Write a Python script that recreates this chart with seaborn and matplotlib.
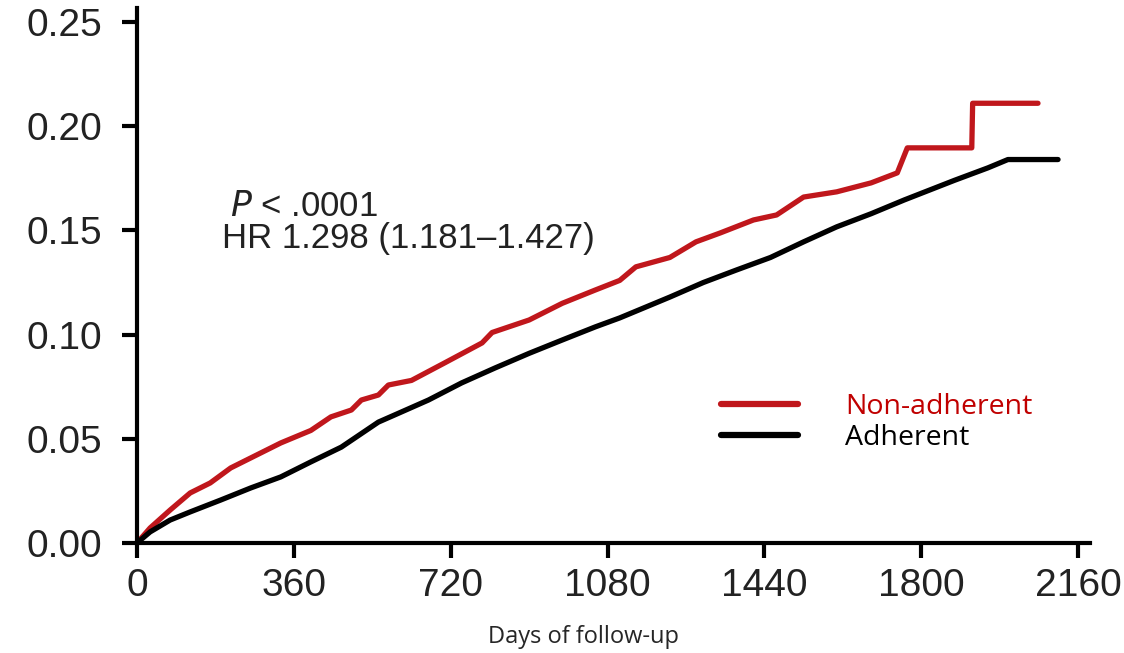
import matplotlib
matplotlib.use("Agg")
import matplotlib.pyplot as plt
import seaborn as sns
import pandas as pd

# Non-adherent (red) cumulative incidence
red_days = [0, 30, 76, 122, 168, 215, 261, 330, 399, 445, 492, 515, 554, 577, 630, 706, 792, 815, 900, 976,
            1052, 1108, 1145, 1223, 1283, 1339, 1415, 1468, 1530, 1606, 1685, 1745, 1768, 1916, 1918, 2068]
red_vals = [0.0, 0.0072, 0.0158, 0.024, 0.0288, 0.036, 0.0408, 0.048, 0.054, 0.0605, 0.0638, 0.0686, 0.071,
            0.0758, 0.078, 0.0864, 0.096, 0.101, 0.107, 0.115, 0.1214, 0.126, 0.1325, 0.137, 0.1445, 0.1488,
            0.155, 0.1574, 0.166, 0.1685, 0.1728, 0.1776, 0.1896, 0.1896, 0.211, 0.211]

# Adherent (black) cumulative incidence
blk_days = [0, 30, 76, 122, 192, 261, 330, 399, 469, 554, 591, 669, 745, 822, 900, 976, 1052, 1108,
            1223, 1300, 1376, 1454, 1530, 1606, 1685, 1761, 1876, 1953, 1999, 2114]
blk_vals = [0.0, 0.0053, 0.011, 0.0149, 0.0206, 0.0264, 0.0317, 0.0389, 0.046, 0.058, 0.0614, 0.0686,
            0.0768, 0.084, 0.091, 0.0974, 0.1037, 0.108, 0.118, 0.125, 0.131, 0.137, 0.1445, 0.1517,
            0.158, 0.1646, 0.174, 0.18, 0.184, 0.184]

x_ticks = [0, 360, 720, 1080, 1440, 1800, 2160]
y_ticks = [0.00, 0.05, 0.10, 0.15, 0.20, 0.25]
y_labels = ["0.00", "0.05", "0.10", "0.15", "0.20", "0.25"]

df = pd.concat([
    pd.DataFrame({"days": red_days, "val": red_vals, "group": "Non-adherent"}),
    pd.DataFrame({"days": blk_days, "val": blk_vals, "group": "Adherent"}),
])

sns.set_style("white")
plt.rcParams["font.family"] = ["Liberation Sans", "DejaVu Sans"]

fig = plt.figure(figsize=(11.24, 6.53), dpi=100)
ax = fig.add_axes([0.1219, 0.1685, 0.970 - 0.1219, 0.9877 - 0.1685])

palette = {"Non-adherent": "#c0171c", "Adherent": "#000000"}
sns.lineplot(data=df, x="days", y="val", hue="group", palette=palette, estimator=None, sort=False,
             units="group", linewidth=3.8, ax=ax, legend=True)

ax.set_xlim(0, 2188)
ax.set_ylim(0, 0.2567)
ax.set_xticks(x_ticks)
ax.set_xticklabels([str(t) for t in x_ticks])
ax.set_yticks(y_ticks)
ax.set_yticklabels(y_labels)
for s in ["top", "right"]:
    ax.spines[s].set_visible(False)
for s in ["left", "bottom"]:
    ax.spines[s].set_linewidth(3)
    ax.spines[s].set_color("black")
ax.tick_params(axis="both", direction="out", length=11, width=3, labelsize=28, colors="black",
               labelcolor="#222222", left=True, bottom=True)
ax.tick_params(axis="y", pad=14)
ax.tick_params(axis="x", pad=7)

ax.set_ylabel("")
ax.set_xlabel("Days of follow-up", family=["Open Sans", "DejaVu Sans"], fontsize=17)
ax.xaxis.label.set_va("center")
ax.xaxis.set_label_coords((583 - 137) / 953, -(637 - 543) / 535)

ax.text(0.0976, 0.611, r"$\it{P}$ < .0001", transform=ax.transAxes, fontsize=25, color="#222222",
        va="baseline", ha="left")
ax.text(0.089, 0.551, "HR 1.298 (1.181\u20131.427)", transform=ax.transAxes, fontsize=25, color="#222222",
        va="baseline", ha="left")

handles, labels = ax.get_legend_handles_labels()
leg = ax.legend(handles=handles, labels=labels, frameon=False, loc="upper left",
                bbox_to_anchor=(0.586, 0.328), handlelength=2.7, handletextpad=1.65,
                labelspacing=0.1, prop={"family": ["Open Sans", "DejaVu Sans"], "size": 20.5})
for txt, lab in zip(leg.get_texts(), labels):
    txt.set_color("#c00000" if lab == "Non-adherent" else "black")
for line in leg.get_lines():
    line.set_linewidth(4.5)

fig.savefig("out.png", dpi=100)
